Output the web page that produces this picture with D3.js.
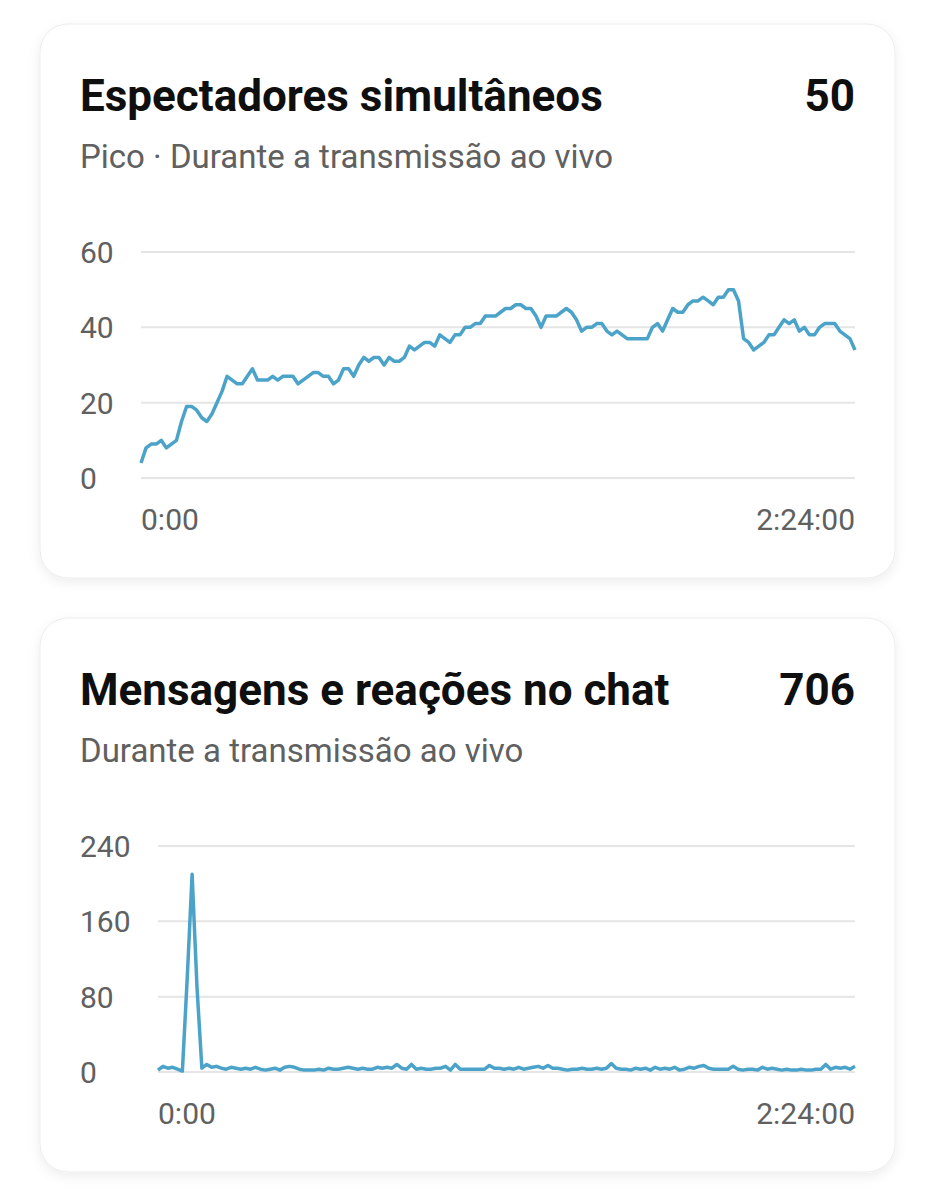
<!DOCTYPE html>
<html><head><meta charset="utf-8">
<script src="https://cdn.jsdelivr.net/npm/d3@7"></script>
<style>
body{margin:0;background:#fff;font-family:Roboto,"Noto Sans",sans-serif}
</style></head><body>
<svg id="c" width="935" height="1200"></svg>
<script>
// concurrent viewers (sampled across the stream)
var viewers = [4,8,9,9,10,8,9,10,15,19,19,18,16,15,17,20,23,27,26,25,25,27,29,26,26,26,27,26,27,27,27,25,26,27,28,28,27,27,25,26,29,29,27,30,32,31,32,32,30,32,31,31,32,35,34,35,36,36,35,38,37,36,38,38,40,40,41,41,43,43,43,44,45,45,46,46,45,45,43,40,43,43,43,44,45,44,42,39,40,40,41,41,39,38,39,38,37,37,37,37,37,40,41,39,42,45,44,44,46,47,47,48,47,46,48,48,50,50,47,37,36,34,35,36,38,38,40,42,41,42,39,40,38,38,40,41,41,41,39,38,37,34];
// chat messages and reactions
var chat = [2,6,4,5,3,1,100,210,90,4,8,5,6,4,3,5,4,3,4,3,5,3,2,3,4,2,5,6,5,3,2,2,2,3,2,4,3,3,4,5,4,3,4,3,3,5,4,5,4,8,4,3,8,3,4,3,3,4,4,6,2,8,3,3,3,3,3,3,7,4,4,3,4,3,5,3,4,5,6,4,7,4,4,3,2,3,3,4,3,3,4,3,4,9,4,3,3,2,4,3,4,2,5,3,4,3,5,2,3,5,4,6,7,4,3,3,3,3,6,3,2,3,3,2,5,3,4,3,2,3,2,2,3,2,2,3,3,8,3,5,4,5,3,6];
var yTicks1 = [0,20,40,60];
var yTicks2 = [0,80,160,240];
var xLabels = ["0:00","2:24:00"];

var svg = d3.select("#c");
var defs = svg.append("defs");
var f = defs.append("filter").attr("id","sh").attr("x","-10%").attr("y","-10%").attr("width","120%").attr("height","130%");
f.append("feDropShadow").attr("dx",0).attr("dy",4).attr("stdDeviation",6).attr("flood-color","#000").attr("flood-opacity",0.07);

function card(cfg){
  var g = svg.append("g");
  g.append("rect").attr("x",40).attr("y",cfg.top).attr("width",855).attr("height",554)
    .attr("rx",28).attr("fill","#fff").attr("stroke","#ececec").attr("filter","url(#sh)");
  g.append("text").attr("x",80).attr("y",cfg.top+87).attr("font-size",44).attr("font-weight",700)
    .attr("fill","#0f0f0f").text(cfg.title);
  g.append("text").attr("x",855).attr("y",cfg.top+87).attr("font-size",44).attr("font-weight",700)
    .attr("text-anchor","end").attr("fill","#0f0f0f").text(cfg.total);
  g.append("text").attr("x",80).attr("y",cfg.top+144).attr("font-size",33)
    .attr("fill","#606060").text(cfg.sub);

  var x = d3.scaleLinear().domain([0,cfg.data.length-1]).range([cfg.x0,855]);
  var y = d3.scaleLinear().domain([0,cfg.ticks[cfg.ticks.length-1]]).range([cfg.top+454,cfg.top+228]);

  g.selectAll(".grid").data(cfg.ticks).enter().append("line")
    .attr("x1",cfg.x0).attr("x2",855).attr("y1",function(d){return y(d)}).attr("y2",function(d){return y(d)})
    .attr("stroke","#e5e5e5").attr("stroke-width",2);
  g.selectAll(".yl").data(cfg.ticks).enter().append("text")
    .attr("x",80).attr("y",function(d){return y(d)+11}).attr("font-size",30).attr("fill","#606060")
    .text(function(d){return d});
  g.selectAll(".xl").data(xLabels).enter().append("text")
    .attr("x",function(d,i){return i?855:cfg.x0}).attr("text-anchor",function(d,i){return i?"end":"start"})
    .attr("y",cfg.top+506).attr("font-size",30).attr("fill","#606060").text(function(d){return d});

  g.append("path").datum(cfg.data)
    .attr("d",d3.line().x(function(d,i){return x(i)}).y(function(d){return y(d)}))
    .attr("fill","none").attr("stroke","#4ba3c9").attr("stroke-width",3.5).attr("stroke-linejoin","round");
}

card({top:24,title:"Espectadores simultâneos",total:"50",sub:"Pico · Durante a transmissão ao vivo",data:viewers,ticks:yTicks1,x0:141});
card({top:618,title:"Mensagens e reações no chat",total:"706",sub:"Durante a transmissão ao vivo",data:chat,ticks:yTicks2,x0:158});
</script>
</body></html>
